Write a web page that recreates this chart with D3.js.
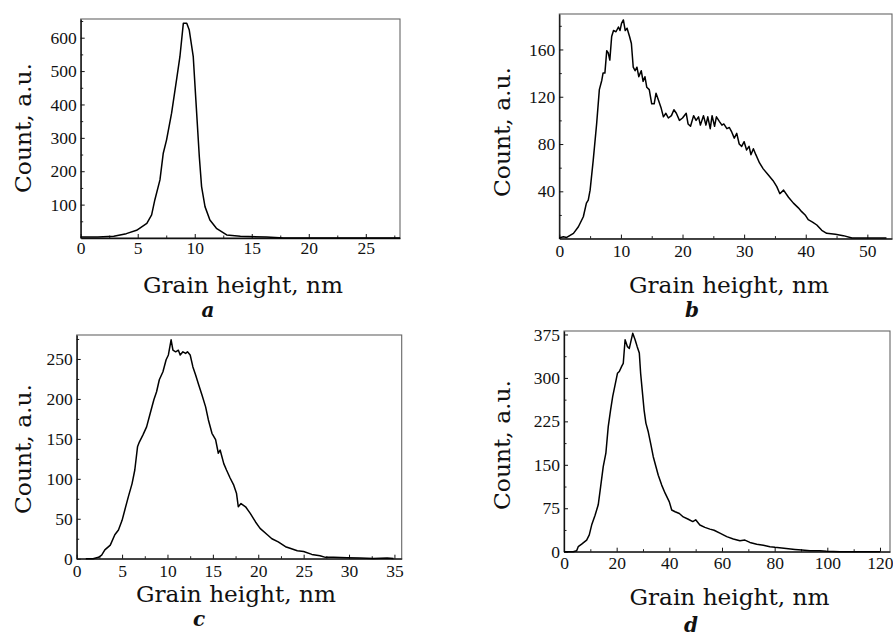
<!DOCTYPE html>
<html>
<head>
<meta charset="utf-8">
<script src="https://cdn.jsdelivr.net/npm/d3@7"></script>
<style>
  html, body { margin: 0; padding: 0; background: #fff; }
  svg { display: block; }
  .tick text { font-family: "Liberation Serif", "Times New Roman", serif; font-size: 17.5px; fill: #111; }
  .lbl { font-family: "DejaVu Serif", serif; font-size: 22px; fill: #111; }
  .letter { font-family: "DejaVu Serif", serif; font-size: 20px; font-style: italic; font-weight: bold; fill: #111; }
</style>
</head>
<body>
<svg id="chart" width="893" height="637"></svg>
<script>
// ---------- Panel a ----------
const aX = [0, 1.5, 2.9, 4.0, 4.9, 5.8, 6.22, 6.5, 6.95, 7.24, 7.53, 7.97, 8.4, 8.7, 9.0, 9.3, 9.52, 9.87, 10.1, 10.4, 10.6, 10.9, 11.33, 11.9, 12.8, 14.0, 16.3, 17.8, 22, 28];
const aY = [3, 3, 5, 13, 23, 44, 69, 114, 174, 254, 294, 374, 473, 543, 643, 643, 623, 543, 413, 244, 154, 94, 54, 29, 9, 5, 3, 0, 0, 0];
const aXTicks = [0, 5, 10, 15, 20, 25];
const aYTicks = [100, 200, 300, 400, 500, 600];

// ---------- Panel b ----------
const bX = [0, 0.65, 1.2, 2.3, 3.1, 3.9, 4.4, 4.7, 5.0, 5.5, 6.06, 6.5, 6.9, 7.1, 7.4, 7.7, 7.95, 8.2, 8.5, 8.8, 9.2, 9.6, 9.85, 10.1, 10.4, 10.7, 11.0, 11.4, 11.7, 12.0, 12.3, 12.6, 12.9, 13.3, 13.6, 13.9, 14.2, 14.6, 15.0, 15.4, 15.7, 16.1, 16.5, 16.9, 17.3, 17.7, 18.2, 18.6, 19.0, 19.5, 20.0, 20.6, 20.9, 21.3, 21.8, 22.2, 22.6, 22.9, 23.4, 23.8, 24.1, 24.5, 24.8, 25.2, 25.5, 26.0, 26.4, 26.7, 27.2, 27.6, 28.0, 28.4, 28.8, 29.2, 29.6, 30.0, 30.4, 30.8, 31.1, 31.5, 31.9, 32.5, 33.1, 33.9, 34.7, 35.3, 35.8, 36.4, 37.2, 38.0, 38.8, 39.3, 39.9, 40.4, 41.1, 41.8, 42.6, 43.4, 44.8, 46.1, 47.5, 49.9, 53.1];
const bY = [0.5, 1.6, 1, 4.4, 10, 18.5, 30, 32.6, 41, 66, 97, 126, 134, 140, 140, 159, 157, 151, 171, 176, 175, 179, 176, 182, 185, 176, 178, 171, 165, 145, 142, 145, 137, 142, 133, 137, 128, 126, 114, 114, 123, 117, 111, 103, 106, 102, 104, 109, 106, 100, 102, 106, 97, 95, 104, 100, 103, 96, 104, 96, 103, 93, 104, 95, 103, 99, 96, 97, 93, 94, 90, 85, 89, 80, 78, 82, 75, 78, 71, 76, 71, 64, 59, 54, 49, 44, 38, 41, 35, 30, 26, 23, 20, 16, 14, 11.5, 7, 4.5, 3.6, 2.5, 0.5, 0.5, 0.5];
const bXTicks = [0, 10, 20, 30, 40, 50];
const bYTicks = [40, 80, 120, 160];

// ---------- Panel c ----------
const cX = [1.0, 1.8, 2.4, 2.75, 3.1, 3.7, 4.2, 4.6, 5.0, 5.3, 5.7, 6.1, 6.4, 6.7, 6.9, 7.3, 7.7, 8.1, 8.5, 8.8, 9.1, 9.5, 9.85, 10.1, 10.4, 10.6, 10.9, 11.2, 11.4, 11.7, 12.0, 12.2, 12.5, 12.8, 13.1, 13.4, 13.8, 14.2, 14.5, 14.9, 15.3, 15.6, 15.8, 16.2, 16.5, 16.9, 17.3, 17.6, 17.8, 18.1, 18.6, 19.1, 19.7, 20.2, 21.0, 21.5, 22.2, 23.0, 23.5, 24.3, 25.0, 25.9, 26.8, 27.4, 28.3, 29.8, 31.2, 32.7, 34.2, 34.9];
const cY = [0, 0, 1.7, 4.6, 11, 17, 30, 36, 48, 61, 78, 94, 111, 140, 146, 155, 165, 182, 199, 209, 224, 234, 249, 255, 274, 261, 259, 261, 255, 259, 257, 259, 255, 240, 230, 219, 205, 190, 174, 157, 149, 132, 136, 119, 111, 101, 92, 82, 65, 69, 65, 57, 46, 38, 30, 25, 21, 15, 13, 10, 9, 5.4, 3.8, 1.7, 1.7, 1.3, 0.8, 0.4, 0.8, 0.4];
const cXTicks = [0, 5, 10, 15, 20, 25, 30, 35];
const cYTicks = [0, 50, 100, 150, 200, 250];

// ---------- Panel d ----------
const dX = [0, 3.5, 4.8, 5.4, 6.7, 8.6, 9.6, 10.5, 11.8, 13.0, 13.9, 14.9, 15.9, 16.8, 17.7, 18.5, 19.4, 20.3, 21.0, 21.9, 22.5, 23.2, 24.1, 24.8, 25.4, 26.1, 27.0, 27.8, 28.6, 29.1, 29.7, 30.4, 31.1, 32.0, 32.9, 33.9, 34.9, 35.8, 37.1, 38.4, 40.0, 40.9, 42.2, 43.8, 45.3, 47.2, 48.9, 50.0, 51.6, 53.5, 55.4, 57.0, 59.2, 61.8, 64.3, 66.8, 68.7, 70.6, 73.2, 75.7, 78.2, 80.1, 82.7, 85.2, 87.7, 90.3, 93.4, 97.2, 99.7, 104.8, 112.4, 120];
const dY = [0, 0, 1.7, 8.6, 13, 20, 29, 46, 63, 81, 112, 147, 170, 216, 245, 268, 288, 308, 311, 320, 325, 366, 354, 351, 363, 377, 366, 354, 343, 308, 279, 245, 222, 207, 187, 164, 147, 132, 115, 101, 86, 72, 69, 66, 60, 56, 52, 55, 46, 42, 39, 37, 32, 26, 22, 19, 20, 16, 13, 11, 8.6, 7.5, 6.3, 5.2, 4, 2.9, 1.7, 1.7, 0.6, 0, 0, 0];
const dXTicks = [0, 20, 40, 60, 80, 100, 120];
const dYTicks = [0, 75, 150, 225, 300, 375];

const xLabel = "Grain height, nm";
const yLabel = "Count, a.u.";
const letters = ["a", "b", "c", "d"];

const panels = [
  { xs: aX, ys: aY, xDom: [0, 28], yDom: [0, 656], xT: aXTicks, yT: aYTicks, xMinorStep: 2.5, yMinorStep: 50,
    box: { l: 80.7, r: 400, t: 19, b: 238 }, xPad: 4, xl: [243, 293], yl: [31, 128], lt: [208, 317] },
  { xs: bX, ys: bY, xDom: [0, 54], yDom: [0, 190], xT: bXTicks, yT: bYTicks, xMinorStep: 5, yMinorStep: 20,
    box: { l: 559.3, r: 892, t: 14, b: 238.6 }, xPad: 6, xl: [729, 293], yl: [510, 132], lt: [692, 317] },
  { xs: cX, ys: cY, xDom: [0, 35.8], yDom: [0, 280], xT: cXTicks, yT: cYTicks, xMinorStep: 2.5, yMinorStep: 25,
    box: { l: 76.7, r: 401.7, t: 335, b: 558.7 }, xPad: 6, xl: [236, 602], yl: [31, 449], lt: [199, 626] },
  { xs: dX, ys: dY, xDom: [0, 123.8], yDom: [0, 381], xT: dXTicks, yT: dYTicks, xMinorStep: 10, yMinorStep: 37.5,
    box: { l: 564, r: 890, t: 331, b: 551.7 }, xPad: 5, xl: [729.5, 605], yl: [510, 445], lt: [691, 632] }
];

const svg = d3.select("#chart");

panels.forEach((p, i) => {
  const g = svg.append("g");
  const x = d3.scaleLinear().domain(p.xDom).range([p.box.l, p.box.r]);
  const y = d3.scaleLinear().domain(p.yDom).range([p.box.b, p.box.t]);

  // frame
  g.append("rect")
    .attr("x", p.box.l).attr("y", p.box.t)
    .attr("width", p.box.r - p.box.l).attr("height", p.box.b - p.box.t)
    .attr("fill", "none").attr("stroke", "#666").attr("stroke-width", 1.1);

  // minor ticks
  const xMinor = d3.range(p.xDom[0], p.xDom[1] + 1e-9, p.xMinorStep).filter(v => !p.xT.some(t => Math.abs(t - v) < 1e-9));
  const yMinor = d3.range(p.yDom[0], p.yDom[1] + 1e-9, p.yMinorStep).filter(v => !p.yT.some(t => Math.abs(t - v) < 1e-9) && v > 0);

  const gxMinor = g.append("g").attr("transform", `translate(0,${p.box.b})`)
    .call(d3.axisBottom(x).tickValues(xMinor).tickSize(-2.5).tickSizeOuter(0).tickFormat(""));
  gxMinor.select(".domain").remove();
  gxMinor.selectAll("line").attr("stroke", "#222");

  const gyMinor = g.append("g").attr("transform", `translate(${p.box.l},0)`)
    .call(d3.axisLeft(y).tickValues(yMinor).tickSize(-2.5).tickSizeOuter(0).tickFormat(""));
  gyMinor.select(".domain").remove();
  gyMinor.selectAll("line").attr("stroke", "#222");

  // major axes
  const gx = g.append("g").attr("transform", `translate(0,${p.box.b})`)
    .call(d3.axisBottom(x).tickValues(p.xT).tickSize(-4).tickSizeOuter(0).tickPadding(p.xPad).tickFormat(d3.format("d")));
  gx.select(".domain").attr("stroke", "#111").attr("stroke-width", 1.3);
  gx.selectAll(".tick line").attr("stroke", "#111");
  gx.selectAll(".tick text").attr("font-family", null).attr("font-size", null);

  const gy = g.append("g").attr("transform", `translate(${p.box.l},0)`)
    .call(d3.axisLeft(y).tickValues(p.yT).tickSize(-4).tickSizeOuter(0).tickPadding(4).tickFormat(d3.format("d")));
  gy.select(".domain").attr("stroke", "#111").attr("stroke-width", 1.3);
  gy.selectAll(".tick line").attr("stroke", "#111");
  gy.selectAll(".tick text").attr("font-family", null).attr("font-size", null);

  // curve
  const pts = p.xs.map((v, k) => [v, p.ys[k]]);
  g.append("path")
    .datum(pts)
    .attr("fill", "none")
    .attr("stroke", "#000")
    .attr("stroke-width", 1.5)
    .attr("stroke-linejoin", "round")
    .attr("d", d3.line().x(d => x(d[0])).y(d => y(d[1])));

  // labels
  g.append("text").attr("class", "lbl")
    .attr("x", p.xl[0]).attr("y", p.xl[1])
    .attr("text-anchor", "middle")
    .attr("textLength", 200).attr("lengthAdjust", "spacingAndGlyphs")
    .text(xLabel);

  g.append("text").attr("class", "lbl")
    .attr("transform", `translate(${p.yl[0]},${p.yl[1]}) rotate(-90)`)
    .attr("text-anchor", "middle")
    .attr("textLength", 130).attr("lengthAdjust", "spacingAndGlyphs")
    .text(yLabel);

  g.append("text").attr("class", "letter")
    .attr("x", p.lt[0]).attr("y", p.lt[1])
    .attr("text-anchor", "middle")
    .text(letters[i]);
});
</script>
</body>
</html>
